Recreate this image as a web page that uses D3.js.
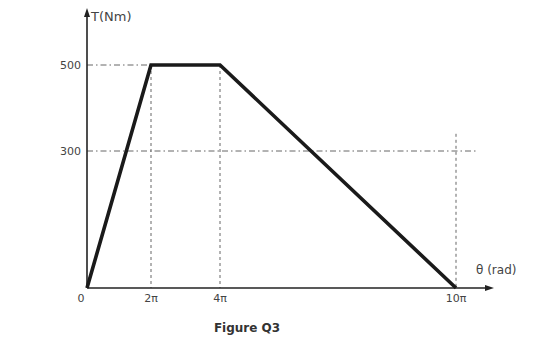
<!DOCTYPE html>
<html><head><meta charset="utf-8">
<script src="https://cdn.jsdelivr.net/npm/d3@7"></script>
<style>body{margin:0;background:#fff}svg{display:block}</style>
</head><body>
<svg id="c" width="555" height="356"></svg>
<script>
// data (theta in multiples of pi, torque in Nm)
const thetaPi = [0, 2, 4, 10];
const torque = [0, 500, 500, 0];
const xTickLabels = ["0", "2\u03c0", "4\u03c0", "10\u03c0"];
const yTicks = [500, 300];
const title = "Figure Q3";

const svg = d3.select("#c");
// figure is not drawn to scale: piecewise linear scales
const x = d3.scaleLinear().domain([0, 2, 4, 10]).range([87, 151, 220, 456]);
const y = d3.scaleLinear().domain([0, 300, 500]).range([288, 151, 65]);

const grid = "#666";
// horizontal dash-dot guides
svg.append("line").attr("x1", x(0)).attr("x2", x(2)).attr("y1", y(500)).attr("y2", y(500))
  .attr("stroke", grid).attr("stroke-width", 1).attr("stroke-dasharray", "6,3,1.5,3");
svg.append("line").attr("x1", x(0)).attr("x2", 478).attr("y1", y(300)).attr("y2", y(300))
  .attr("stroke", grid).attr("stroke-width", 1).attr("stroke-dasharray", "6,3,1.5,3");
// vertical dotted guides
[[2, 500], [4, 500], [10, 340]].forEach(([t, v]) => {
  svg.append("line").attr("x1", x(t)).attr("x2", x(t)).attr("y1", y(v)).attr("y2", y(0))
    .attr("stroke", grid).attr("stroke-width", 1).attr("stroke-dasharray", "3,3");
});

// axes
svg.append("line").attr("x1", x(0)).attr("x2", x(0)).attr("y1", y(0)).attr("y2", 14)
  .attr("stroke", "#222").attr("stroke-width", 1.6);
svg.append("path").attr("d", `M${x(0)},8 L${x(0)-3},17 L${x(0)+3},17 Z`).attr("fill", "#222");
svg.append("line").attr("x1", x(0)).attr("x2", 487).attr("y1", y(0)).attr("y2", y(0))
  .attr("stroke", "#222").attr("stroke-width", 1.6);
svg.append("path").attr("d", `M494,${y(0)} L485,${y(0)-3} L485,${y(0)+3} Z`).attr("fill", "#222");

// data line
const line = d3.line().x((d, i) => x(thetaPi[i])).y(d => y(d));
svg.append("path").datum(torque).attr("d", line).attr("fill", "none")
  .attr("stroke", "#1a1a1a").attr("stroke-width", 3.6).attr("stroke-linejoin", "miter");

// tick labels
svg.selectAll(".yl").data(yTicks).enter().append("text")
  .attr("x", 81).attr("y", d => y(d) + 4).attr("text-anchor", "end")
  .attr("font-family", "DejaVu Sans, sans-serif").attr("font-size", 11).attr("fill", "#444")
  .text(d => d);
svg.selectAll(".xl").data(thetaPi).enter().append("text")
  .attr("x", (d, i) => i === 0 ? x(d) - 6 : x(d)).attr("y", 302).attr("text-anchor", "middle")
  .attr("font-family", "DejaVu Sans, sans-serif").attr("font-size", 11).attr("fill", "#444")
  .text((d, i) => xTickLabels[i]);

// axis titles
svg.append("text").attr("x", 91).attr("y", 21).attr("font-family", "DejaVu Sans, sans-serif")
  .attr("font-size", 13).attr("fill", "#444").text("T(Nm)");
svg.append("text").attr("x", 476).attr("y", 274).attr("font-family", "DejaVu Sans, sans-serif")
  .attr("font-size", 12).attr("fill", "#444").text("\u03b8 (rad)");

// caption
svg.append("text").attr("x", 247).attr("y", 332).attr("text-anchor", "middle")
  .attr("font-family", "DejaVu Sans, sans-serif").attr("font-weight", "bold")
  .attr("font-size", 12).attr("fill", "#333").text(title);
</script>
</body></html>
